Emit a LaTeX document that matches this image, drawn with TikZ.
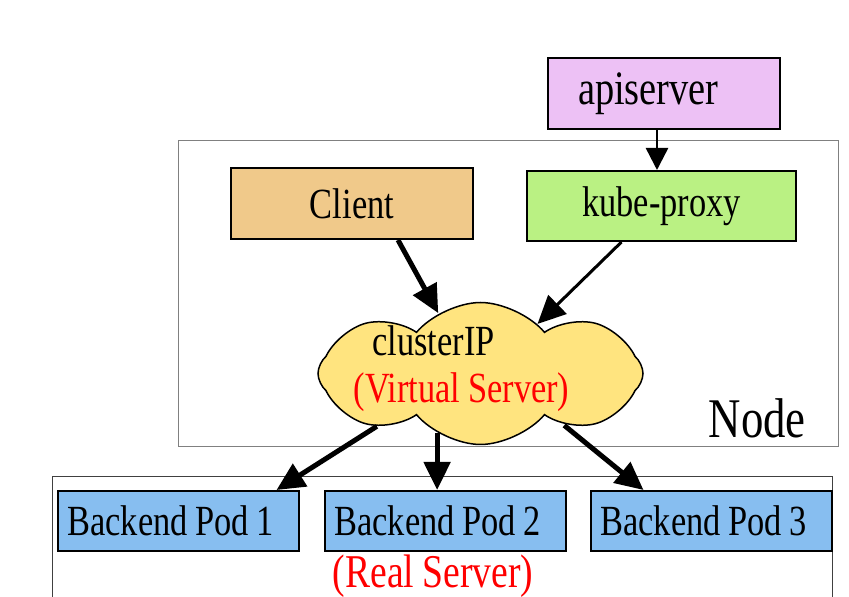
\documentclass[tikz,border=0pt]{standalone}
\usepackage{fontspec}
\setmainfont{Liberation Serif}[FakeStretch=0.8, WordSpace=0.9]
\usetikzlibrary{arrows.meta,positioning,shapes.symbols}
\definecolor{apicolor}{HTML}{EDC1F5}
\definecolor{proxycolor}{HTML}{BAF183}
\definecolor{clientcolor}{HTML}{F0C98A}
\definecolor{cloudcolor}{HTML}{FFE47F}
\definecolor{podcolor}{HTML}{87BEF0}
\tikzset{
    %Define standard arrow tip
    >={Triangle[length=28pt,width=26pt]},
    %Define style for boxes
    box/.style={rectangle, draw=black, line width=2pt, inner sep=0pt, font=\fontsize{43}{48}\selectfont},
    pod/.style={box, fill=podcolor, text width=222pt, inner xsep=9.5pt, minimum height=60pt, align=flush left},
    %Define style for the cloud
    puff/.style={cloud, cloud puffs=8, cloud puff arc=100, aspect=2.3, draw=black, line width=1.5pt, fill=cloudcolor, minimum width=325pt, minimum height=142pt},
    flow/.style={->, line width=5pt},
    thinflow/.style={-{Triangle[length=22pt,width=22pt]}, line width=2.5pt},
}
\begin{document}
\begin{tikzpicture}[x=1pt, y=1pt, font=\fontsize{43}{48}\selectfont]
    \useasboundingbox (0,0) rectangle (849,597);
    % frames
    \draw[gray, line width=1pt] (178,150) rectangle (838,456);
    \draw[black!75, line width=1pt] (52,-5) -- (52,120) -- (832,120) -- (832,-5);

    \node[box, fill=apicolor, text width=172pt, inner xsep=30pt, align=flush left, minimum height=71pt, font=\fontsize{48}{54}\selectfont](apiserver) at (664,503.5){apiserver};
    \node[box, fill=proxycolor, minimum width=269pt, minimum height=70pt, below=40pt of apiserver, xshift=-2.5pt](kube){kube-proxy};
    \node[box, fill=clientcolor, minimum width=242pt, minimum height=71pt, left=52pt of kube, yshift=2.5pt](client){Client};

    \node[puff](cloud) at (480.5,223.5){};
    \node[anchor=base](cip) at ([xshift=-47pt,yshift=17.5pt]cloud.center){clusterIP};
    \node[anchor=base, text=red](vs) at ([xshift=-19pt,yshift=-29.5pt]cloud.center){(Virtual Server)};
    \node[anchor=base east, inner sep=0pt, font=\fontsize{56}{62}\selectfont](nodelabel) at (806,159){Node};

    \node[pod](pod1) at (178.5,76){Backend Pod 1};
    \node[pod, right=24pt of pod1](pod2){Backend Pod 2};
    \node[pod, right=23pt of pod2](pod3){Backend Pod 3};
    \node[anchor=base, text=red, font=\fontsize{47}{52}\selectfont](real) at (433,9){(Real Server)};

    \path([xshift=-7pt]apiserver.south) edge [thinflow] ([xshift=-7pt]apiserver.south |- kube.north);
    \path([xshift=46pt]client.south) edge [flow] (cloud.125);
    \path([xshift=-40pt]kube.south) edge [flow, line width=3pt] (cloud.41);
    \path(cloud.207) edge [flow] ([xshift=98pt]pod1.north);
    \path(cloud.234) edge [flow] (cloud.234 |- pod2.north);
    \path([xshift=-20pt,yshift=1pt]cloud.333) edge [flow] ([xshift=-68pt]pod3.north);
\end{tikzpicture}
\end{document}
